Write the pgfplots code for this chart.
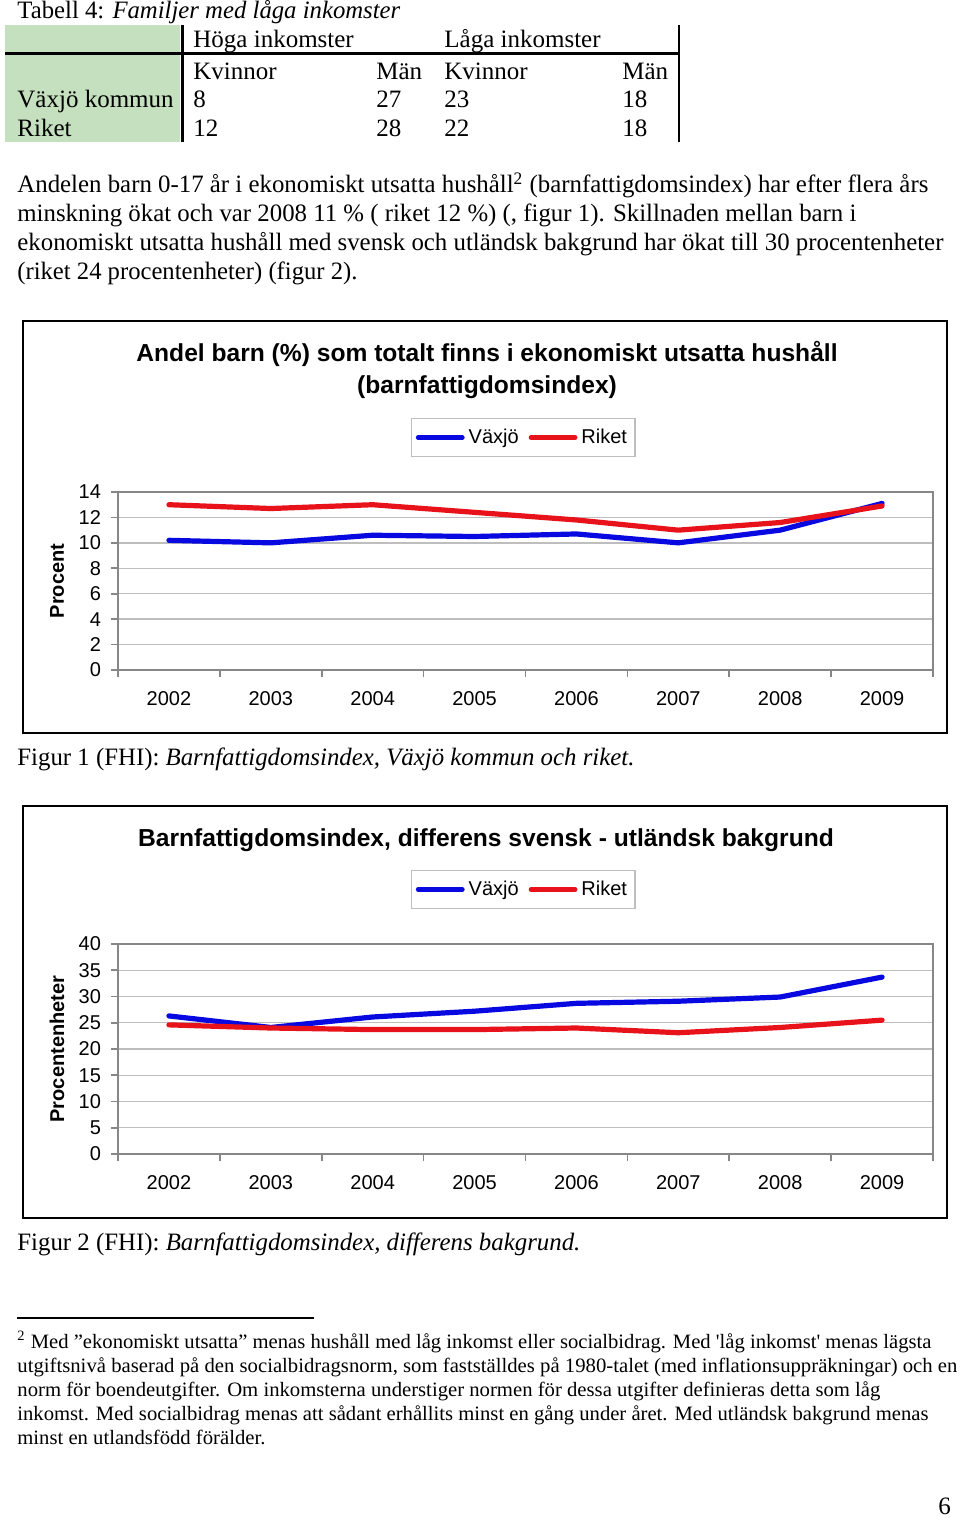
\documentclass[border=0pt]{standalone}
\usepackage{fontspec}
\setmainfont{Liberation Serif}
\newfontfamily\arial{Liberation Sans}
\usepackage{graphicx}
\usepackage{pgfplots}
\pgfplotsset{compat=1.18}
\definecolor{vblue}{RGB}{8,8,225}
\definecolor{rred}{RGB}{232,18,26}
\definecolor{tgreen}{RGB}{197,224,190}
\definecolor{axgray}{RGB}{135,135,135}
\definecolor{gridgray}{RGB}{190,190,190}
\newcommand{\R}[2]{\resizebox{#1pt}{\height}{#2}}

\pgfplotstableread{
x vax rik
0 10.2 13.0
1 10.0 12.7
2 10.6 13.0
3 10.5 12.4
4 10.7 11.8
5 10.0 11.0
6 11.0 11.6
7 13.1 12.9
}\figA
\pgfplotstableread{
x vax rik
0 26.3 24.6
1 24.1 24.0
2 26.1 23.7
3 27.2 23.7
4 28.7 24.0
5 29.1 23.1
6 29.9 24.1
7 33.7 25.5
}\figB

\pgfplotsset{
 fhi/.style={
  scale only axis, width=407.5pt,
  xmin=-0.5, xmax=7.5,
  xtick={-0.5,0.5,...,7.5}, xticklabels={},
  extra x ticks={0,1,2,3,4,5,6,7},
  extra x tick labels={2002,2003,2004,2005,2006,2007,2008,2009},
  extra x tick style={major tick length=0pt},
  xtick pos=bottom, ytick pos=left,
  tick align=outside,
  major tick length=3.5pt,
  /pgf/number format/assume math mode=true,
  tick style={axgray, line width=0.8pt},
  axis line style={axgray, line width=0.9pt},
  ymajorgrids, major grid style={gridgray, line width=0.7pt},
  ticklabel style={font=\arial\fontsize{10}{12}\selectfont},
  xticklabel style={yshift=-7pt},
  yticklabel style={xshift=-1.5pt},
  ylabel style={at={(axis description cs:-0.0748,0.5)}, anchor=center,
    font=\arial\bfseries\fontsize{10}{12}\selectfont},
  title style={anchor=center, align=center,
    font=\arial\bfseries\fontsize{12.3}{16}\selectfont},
  legend columns=2,
  legend style={anchor=center, draw=gridgray, line width=0.6pt,
    font=\arial\fontsize{10}{12}\selectfont,
    inner xsep=2pt, inner ysep=3pt,
    /tikz/every even column/.append style={column sep=3pt}},
  legend image code/.code={\draw[#1, line width=2.4pt, line cap=round] (0pt,0pt) -- (22pt,0pt);},
  every axis plot/.append style={line width=2.6pt, line join=round, line cap=round},
 }
}

\begin{document}
\begin{tikzpicture}
\useasboundingbox (0pt,0pt) rectangle (480pt,-759pt);
\begin{scope}[x=0.5pt, y=-0.5pt,
  body/.style={anchor=base west, inner sep=0pt, font=\fontsize{12.5}{15}\selectfont},
  foot/.style={anchor=base west, inner sep=0pt, font=\fontsize{10.2}{12}\selectfont}]
% table
\fill[tgreen] (5,25) rectangle (180,142);
\draw[line width=1.5pt] (182,25) -- (182,142);
\draw[line width=1.5pt] (5,54) -- (679,54);
\draw[line width=0.9pt] (679,25) -- (679,142);
\node[body] at (17,19) {\R{191.5}{Tabell 4: \textit{Familjer med låga inkomster}}};
\node[body] at (193,48) {Höga inkomster};
\node[body] at (444,48) {Låga inkomster};
\node[body] at (193,80) {Kvinnor};
\node[body] at (376,80) {Män};
\node[body] at (444,80) {Kvinnor};
\node[body] at (622,80) {Män};
\node[body] at (17,108) {Växjö kommun};
\node[body] at (193,108) {8};
\node[body] at (376,108) {27};
\node[body] at (444,108) {23};
\node[body] at (622,108) {18};
\node[body] at (17,137) {Riket};
\node[body] at (193,137) {12};
\node[body] at (376,137) {28};
\node[body] at (444,137) {22};
\node[body] at (622,137) {18};
% paragraph
\node[body] at (17,193) {\R{455.5}{Andelen barn 0-17 år i ekonomiskt utsatta hushåll\textsuperscript{2} (barnfattigdomsindex) har efter flera års}};
\node[body] at (17,222) {\R{419.5}{minskning ökat och var 2008 11 \% ( riket 12 \%) (, figur 1). Skillnaden mellan barn i}};
\node[body] at (17,251) {\R{463}{ekonomiskt utsatta hushåll med svensk och utländsk bakgrund har ökat till 30 procentenheter}};
\node[body] at (17,280) {\R{170}{(riket 24 procentenheter) (figur 2).}};
% frames
\draw[line width=1.4pt] (23,321) rectangle (947,733);
\draw[line width=1.4pt] (23,806) rectangle (947,1218);
% captions
\node[body] at (17,765) {\R{308.5}{Figur 1 (FHI): \textit{Barnfattigdomsindex, Växjö kommun och riket.}}};
\node[body] at (17,1250) {\R{281.5}{Figur 2 (FHI): \textit{Barnfattigdomsindex, differens bakgrund.}}};
% footnote
\draw[line width=0.6pt] (17,1318) -- (314,1318);
\node[foot] at (17,1348) {\R{457}{\textsuperscript{2} Med ”ekonomiskt utsatta” menas hushåll med låg inkomst eller socialbidrag. Med \textquotesingle låg inkomst\textquotesingle{} menas lägsta}};
\node[foot] at (17,1372) {\R{470}{utgiftsnivå baserad på den socialbidragsnorm, som fastställdes på 1980-talet (med inflationsuppräkningar) och en}};
\node[foot] at (17,1396) {\R{431.5}{norm för boendeutgifter. Om inkomsterna understiger normen för dessa utgifter definieras detta som låg}};
\node[foot] at (17,1420) {\R{455.5}{inkomst. Med socialbidrag menas att sådant erhållits minst en gång under året. Med utländsk bakgrund menas}};
\node[foot] at (17,1444) {\R{124}{minst en utlandsfödd förälder.}};
\node[body] at (938,1514) {6};
\end{scope}

\begin{axis}[fhi, at={(59pt,-335pt)}, anchor=south west, height=89pt,
  ymin=0, ymax=14, ytick={0,2,...,14},
  ylabel={Procent},
  title={Andel barn (\%) som totalt finns i ekonomiskt utsatta hushåll\\(barnfattigdomsindex)},
  title style={at={(axis description cs:0.4528,1.618)}},
  legend style={at={(axis description cs:0.4975,1.306)}}]
\addplot[vblue] table[x=x, y=vax] {\figA};
\addplot[rred] table[x=x, y=rik] {\figA};
\legend{Växjö, Riket}
\end{axis}

\begin{axis}[fhi, at={(59pt,-577pt)}, anchor=south west, height=105pt,
  ymin=0, ymax=40, ytick={0,5,...,40},
  ylabel={Procentenheter},
  title={Barnfattigdomsindex, differens svensk - utländsk bakgrund},
  title style={at={(axis description cs:0.4515,1.438)}},
  legend style={at={(axis description cs:0.4975,1.2595)}}]
\addplot[vblue] table[x=x, y=vax] {\figB};
\addplot[rred] table[x=x, y=rik] {\figB};
\legend{Växjö, Riket}
\end{axis}
\end{tikzpicture}
\end{document}
